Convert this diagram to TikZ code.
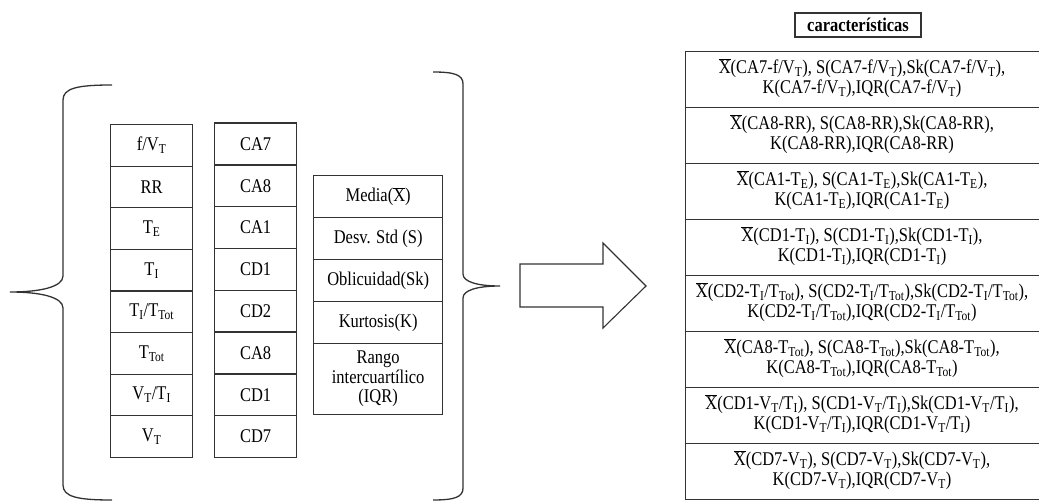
\documentclass[tikz,border=0pt]{standalone}
\usepackage{fontspec}
\setmainfont[FakeStretch=0.85]{Liberation Serif}
\newcommand\mX{$\overline{\mbox{X}}$}
\newcommand\ts[1]{\textsubscript{#1}}
\newcommand\feat[1]{\mX(#1), S(#1),Sk(#1),\\K(#1),IQR(#1)}
\newcommand\txtsize{\fontsize{19.4}{19.5}\selectfont}
\begin{document}
\begin{tikzpicture}[x=1pt,y=-1pt,
  line/.style={draw=black!80,line width=1.3pt},
  cell/.style={line,fill=white,inner sep=0pt,align=center,
    font=\txtsize,anchor=north west},
  feature/.style={font=\txtsize,align=center,inner sep=0pt}]
\useasboundingbox (0,0) rectangle (1039,502);
\clip (0,0) rectangle (1039,502);

% braces around the input tables
\draw[line] (112,85) .. controls (78,85) and (63,88) .. (63,100) -- (63,276)
  .. controls (63,287) and (40,292) .. (10,292)
  .. controls (40,292) and (63,297) .. (63,308) -- (63,485)
  .. controls (63,497) and (78,500) .. (112,500);
\draw[line] (433,72) .. controls (455,72) and (463,75) .. (463,84) -- (463,274)
  .. controls (463,282) and (478,286) .. (500,286)
  .. controls (478,286) and (463,290) .. (463,298) -- (463,488)
  .. controls (463,497) and (455,500) .. (433,500);

% variables
\foreach \t [count=\i] in {f/V\ts{T},RR,T\ts{E},T\ts{I},T\ts{I}/T\ts{Tot},T\ts{Tot},V\ts{T}/T\ts{I},V\ts{T}}
  \node[cell,minimum width=82pt,minimum height=41.6pt] (v\i) at (110,{124+41.6*(\i-1)}) {\t};

% channels
\foreach \t [count=\i] in {CA7,CA8,CA1,CD1,CD2,CA8,CD1,CD7}
  \node[cell,minimum width=82pt,minimum height=41.8pt] (c\i) at (214,{122.5+41.8*(\i-1)}) {\t};

% statistics
\foreach \t [count=\i] in {Media(\mX),Desv. Std (S),Oblicuidad(Sk),Kurtosis(K)}
  \node[cell,minimum width=129pt,minimum height=42pt] (s\i) at (313,{175+42*(\i-1)}) {\t};
\node[cell,minimum width=129pt,minimum height=71pt] (s5) at (313,343)
  {Rango\\intercuartílico\\(IQR)};

% block arrow
\draw[line,line width=1.1pt,line join=miter] (520,264) -- (603,264) -- (603,243) -- (646,286)
  -- (603,328) -- (603,307) -- (520,307) -- cycle;

% resulting features
\node[line,line width=1.1pt,inner sep=0pt,minimum width=126pt,minimum height=24pt,
  font=\txtsize\bfseries] (title) at (858,25) {características};
\foreach \t [count=\i] in {CA7-f/V\ts{T},CA8-RR,CA1-T\ts{E},CD1-T\ts{I},
    CD2-T\ts{I}/T\ts{Tot},CA8-T\ts{Tot},CD1-V\ts{T}/T\ts{I},CD7-V\ts{T}}{
  \node[line,anchor=north west,minimum width=360pt,minimum height=56pt,inner sep=0pt]
    (r\i) at (685,{51+56*(\i-1)}) {};
  \node[feature] (f\i) at (862,{78+56*(\i-1)}) {\feat{\t}};
}
\end{tikzpicture}
\end{document}
